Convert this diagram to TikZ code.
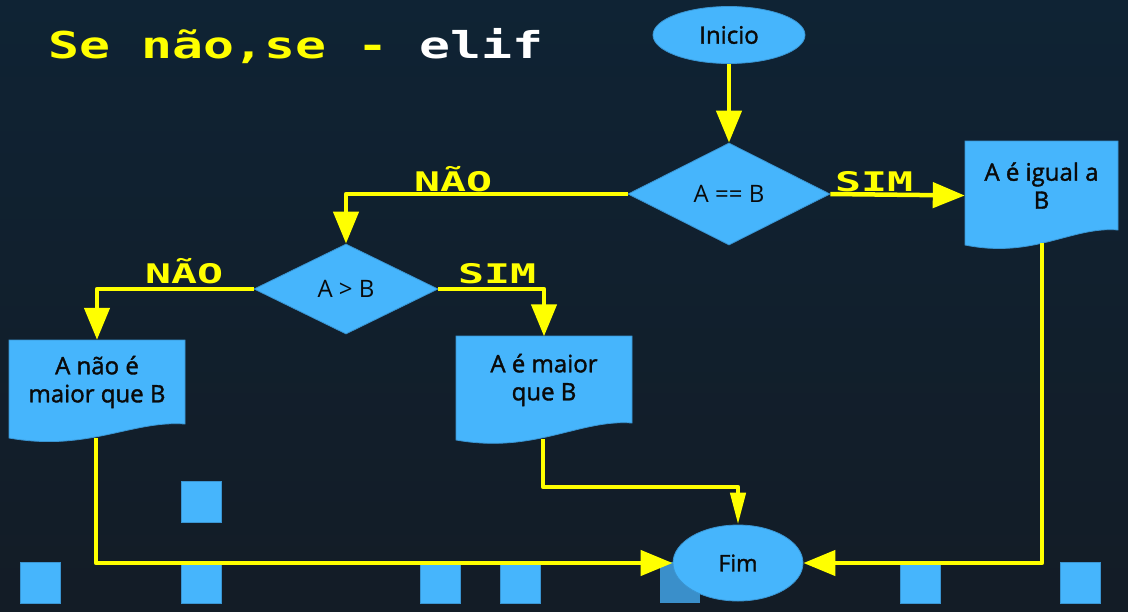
\documentclass[tikz,border=0pt]{standalone}
\usepackage{fontspec}
\usepackage{graphicx}
\setmainfont{Open Sans}
\newfontfamily\medfont{Open Sans}[FakeBold=1.5]
\newfontfamily\pixfont{DejaVu Sans Mono}
\usetikzlibrary{shapes.geometric,arrows.meta}
\definecolor{bgtop}{HTML}{0F2334}
\definecolor{bgbot}{HTML}{131C26}
\definecolor{blu}{HTML}{46B5FC}
\definecolor{bluedge}{HTML}{3A95D2}
\definecolor{bludark}{HTML}{3A8FCA}
\definecolor{yel}{HTML}{FFFF00}
\definecolor{ink}{HTML}{0A0A0A}
\begin{document}
\begin{tikzpicture}[x=1pt,y=-1pt,
  shp/.style={fill=blu, draw=bluedge, line width=0.8pt, text=ink, inner sep=0pt, font=\fontsize{24}{28}\selectfont},
  ell/.style={shp, ellipse},
  dia/.style={shp, diamond},
  docbox/.style={inner sep=0pt, text=ink, align=center, font=\fontsize{24}{28}\selectfont\medfont},
  docfill/.style={fill=blu, draw=bluedge, line width=0.8pt},
  sq/.style={fill=blu, draw=bluedge, line width=0.6pt},
  arr/.style={draw=yel, line width=4.5pt, line join=round, -{Triangle[length=32pt,width=25pt]}},
  arrn/.style={draw=yel, line width=4.5pt, line join=round, -{Triangle[length=32pt,width=15pt]}},
  lbl/.style={text=yel, inner sep=0pt, font=\fontsize{27}{27}\selectfont\pixfont\bfseries}
]
\useasboundingbox (0,0) rectangle (1128,611);
\shade[top color=bgtop, bottom color=bgbot] (0,0) rectangle (1128,611);

% decorative squares
\foreach \x/\y in {20/562,181/562,181/481,420/562,500/562,900/562,1060/562}
  \fill[sq] (\x,\y) rectangle ++(40,41);
\fill[fill=bludark] (660,562) rectangle ++(40,41);

% title
\node[anchor=base west, inner sep=0pt, font=\fontsize{37}{37}\selectfont\pixfont\bfseries] (title) at (48,58)
  {\scalebox{1.39}[1]{\textcolor{yel}{Se não,se - }\textcolor{white}{elif}}};

% document shapes
\path[docfill] (965,141) -- (1118,141) -- (1118,230) .. controls (1072,226) and (1034,259) .. (965,245) -- cycle;
\path[docfill] (9,340) -- (185,340) -- (185,424) .. controls (132,420) and (88,452) .. (9,438) -- cycle;
\path[docfill] (456,336) -- (632,336) -- (632,423) .. controls (579,419) and (535,454) .. (456,440) -- cycle;

% nodes
\node[ell, minimum width=152pt, minimum height=57pt, font=\fontsize{24}{28}\selectfont\medfont] (ini) at (729,35) {Inicio};
\node[dia, minimum width=202pt, minimum height=102pt] (d1) at (729,194) {A == B};
\node[dia, minimum width=184pt, minimum height=90pt] (d2) at (346,289) {A > B};
\node[docbox, minimum width=153pt, minimum height=89pt] (doc1) at (1041.5,185.5) {A é igual a\\B};
\node[docbox, minimum width=176pt, minimum height=84pt] (doc2) at (97,382) {A não é\\maior que B};
\node[docbox, minimum width=176pt, minimum height=87pt] (doc3) at (544,380) {A é maior\\que B};
\node[ell, minimum width=130pt, minimum height=76pt, font=\fontsize{23}{28}\selectfont\medfont] (fim) at (738,563) {Fim};

\coordinate (doc1b) at (1042,243);
\coordinate (doc2b) at (96,438);
\coordinate (doc3b) at (543,439);

% labels
\node[lbl, anchor=base west] (sim1) at (835,191) {\scalebox{1.6}[1]{SIM}};
\node[lbl, anchor=base west] (nao1) at (414,191) {\scalebox{1.6}[1]{NÃO}};
\node[lbl, anchor=base west] (nao2) at (145,283) {\scalebox{1.6}[1]{NÃO}};
\node[lbl, anchor=base west] (sim2) at (458,283) {\scalebox{1.6}[1]{SIM}};

% connectors
\draw[arr] (ini.south) -- (d1.north);
\draw[arr] (d1.east) -- ([yshift=-10pt]doc1.west);
\draw[arr] (d1.west) -| (d2.north);
\draw[arr] (d2.west) -| (doc2.north);
\draw[arr] (d2.east) -| (doc3.north);
\draw[arr] (doc2b) |- (fim.west);
\draw[arr] (doc1b) |- (fim.east);
\draw[arrn] (doc3b) -- ++(0,48) -| (fim.north);
\end{tikzpicture}
\end{document}
